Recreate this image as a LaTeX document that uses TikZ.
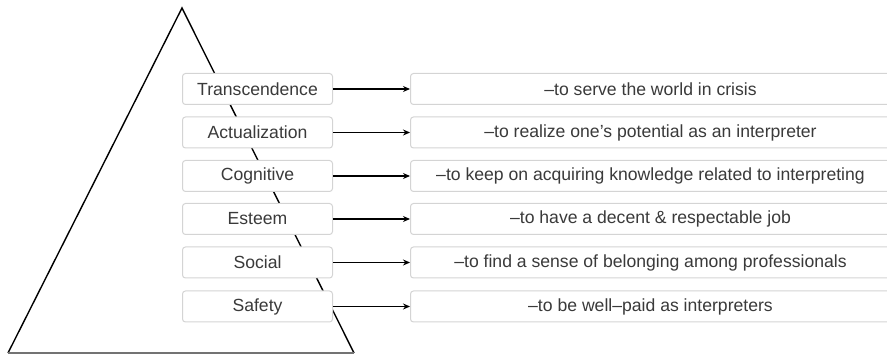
\documentclass[tikz,border=0pt]{standalone}
\usepackage{fontspec}
\setmainfont{Liberation Sans}
\usetikzlibrary{arrows.meta}
\definecolor{boxline}{HTML}{D4D4D4}
\definecolor{txt}{HTML}{3A3A3A}
\tikzset{
  level/.style={draw=boxline, line width=1pt, fill=white, rounded corners=3pt,
    minimum width=150pt, minimum height=31pt, inner sep=0pt, text=txt,
    font=\fontsize{17.6}{19}\selectfont, anchor=north west},
  goal/.style={draw=boxline, line width=1pt, fill=white, rounded corners=3pt,
    minimum width=480pt, minimum height=31pt, inner sep=0pt, text=txt,
    font=\fontsize{17.6}{19}\selectfont, anchor=north west},
  link/.style={line width=1.5pt, -{Stealth[length=7pt,width=6pt]}},
  pyr/.style={line width=1.4pt, line join=miter}
}
\begin{document}
\begin{tikzpicture}[x=1pt,y=-1pt]
\useasboundingbox (0,0) rectangle (887,355);
\clip (0,0) rectangle (887,355);
\coordinate (apex) at (182,8);
\coordinate (bl) at (8,353);
\coordinate (br) at (354,353);
\draw[pyr] (bl) -- (apex) -- (br);
\draw[line width=1.4pt, black!55] (bl) -- (br);
\foreach \i/\y/\name/\goaltext in {
  1/73/Transcendence/{–to serve the world in crisis},
  2/116.5/Actualization/{–to realize one’s potential as an interpreter},
  3/160/Cognitive/{–to keep on acquiring knowledge related to interpreting},
  4/203/Esteem/{–to have a decent \& respectable job},
  5/246.5/Social/{–to find a sense of belonging among professionals},
  6/290.5/Safety/{–to be well–paid as interpreters}} {
  \node[level] (L\i) at (182,\y) {\name};
  \node[goal] (G\i) at (410,\y) {\goaltext};
  \draw[link] (L\i.east) -- (G\i.west);
}
\end{tikzpicture}
\end{document}
